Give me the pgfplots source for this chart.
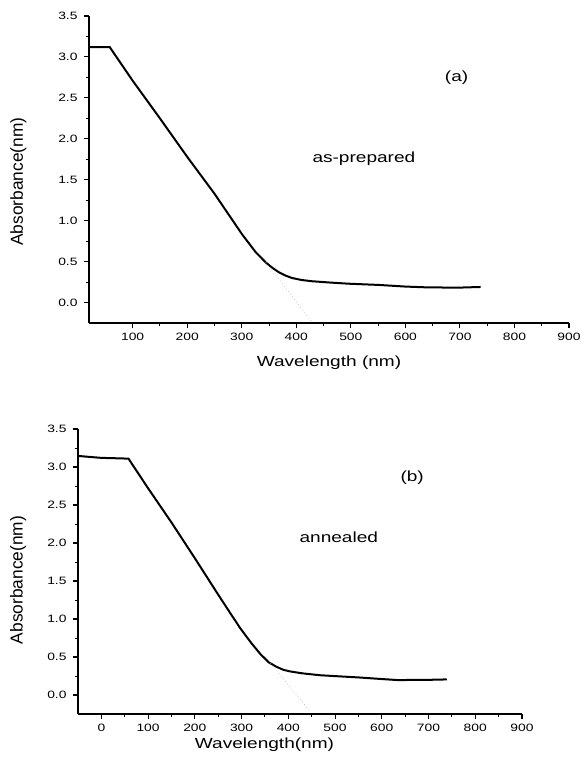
\documentclass[border=0pt]{standalone}
\usepackage{fontspec}
\setmainfont{Liberation Sans}
\usepackage{pgfplots}
\pgfplotsset{compat=1.18}

\tikzset{txt/.style={font=\fontsize{11}{13}\selectfont, xscale=1.3}}

\pgfplotsset{
  absplot/.style={
    scale only axis,
    axis lines*=left,
    tick align=outside,
    axis line style={line width=0.9pt},
    major tick style={line width=0.8pt, black},
    minor tick style={line width=0.7pt, black},
    major tick length=4pt,
    minor tick length=2.5pt,
    minor tick num=1,
    ymin=-0.25, ymax=3.5,
    xmax=900,
    ytick={0,0.5,...,3.5},
    yticklabel style={/pgf/number format/.cd, fixed, fixed zerofill, precision=1},
    /pgf/number format/assume math mode=true,
    tick label style={font=\fontsize{8}{10}\selectfont, xscale=1.3},
    xlabel style={font=\fontsize{11}{13}\selectfont, xscale=1.3},
    ylabel style={font=\fontsize{13}{15}\selectfont},
    clip=false,
  },
}

\begin{document}
\begin{tikzpicture}
\useasboundingbox (0,0) rectangle (436.5pt,567.75pt);

% (a) as-prepared
\begin{axis}[absplot,
  at={(66.75pt,325.5pt)}, anchor=south west,
  width=360pt, height=230.25pt,
  xmin=20, xtick={100,200,...,900},
  xlabel={Wavelength (nm)},
  ylabel={Absorbance(nm)},
  xlabel style={at={(axis description cs:0.5,-0.13)}, anchor=center},
  ylabel style={at={(axis description cs:-0.147,0.46)}, anchor=center},
]
\addplot[line width=1.5pt, black] coordinates {
  (20,3.12) (58,3.12) (100,2.71) (150,2.25) (200,1.78) (250,1.33)
  (277,1.065) (301,0.83) (325,0.62) (344,0.49) (356,0.425)
  (368,0.37) (380,0.33) (392,0.30) (410,0.275) (429,0.26) (460,0.245)
  (496,0.23) (551,0.215) (600,0.195) (640,0.185) (698,0.182) (738,0.19)
};
\addplot[line width=0.5pt, gray!60, dotted] coordinates {(344,0.49) (429,-0.24)};
\node[txt] at (axis cs:694,2.75) {(a)};
\node[txt] at (axis cs:524,1.76) {as-prepared};
\end{axis}

% (b) annealed
\begin{axis}[absplot,
  at={(58.5pt,32.25pt)}, anchor=south west,
  width=333pt, height=213.75pt,
  xmin=-50, xtick={0,100,...,900},
  xlabel={Wavelength(nm)},
  ylabel={Absorbance(nm)},
  xlabel style={at={(axis description cs:0.42,-0.108)}, anchor=center},
  ylabel style={at={(axis description cs:-0.135,0.47)}, anchor=center},
]
\addplot[line width=1.5pt, black] coordinates {
  (-49,3.145) (-20,3.13) (0,3.12) (30,3.115) (58,3.11) (100,2.72) (150,2.27)
  (200,1.80) (250,1.32) (275,1.085) (297,0.88) (320,0.69) (340,0.54)
  (358,0.43) (375,0.37) (390,0.33) (404,0.31) (430,0.285) (468,0.26)
  (510,0.245) (553,0.23) (600,0.21) (632,0.197) (690,0.198) (739,0.205)
};
\addplot[line width=0.5pt, gray!60, dotted] coordinates {(362,0.42) (447,-0.22)};
\node[txt] at (axis cs:665,2.86) {(b)};
\node[txt] at (axis cs:508,2.07) {annealed};
\end{axis}
\end{tikzpicture}
\end{document}
